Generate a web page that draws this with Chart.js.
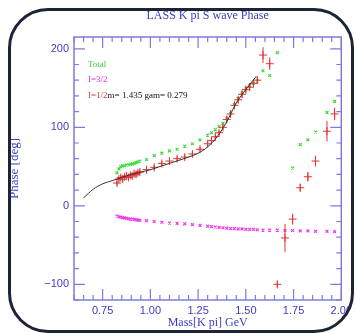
<!DOCTYPE html>
<html>
<head>
    <script src="https://cdn.jsdelivr.net/npm/chart.js@4.4.0/dist/chart.umd.min.js"></script>
    <style>
        body {
            margin: 0;
            background-color: white;
        }
        .wrap {
            position: relative;
            width: 356px;
            height: 333px;
            overflow: hidden;
        }
        .frame {
            position: absolute;
            left: 8px;
            top: 8px;
            width: 346px;
            height: 325px;
            box-sizing: border-box;
            border: 3px solid #1c2438;
            border-radius: 40px;
            box-shadow: 0 0 0 60px white;
            pointer-events: none;
        }
    </style>
</head>
<body>
    <div class="wrap">
        <canvas id="phaseChart" width="356" height="333"></canvas>
        <div class="frame"></div>
    </div>

    <script>
        // LASS K pi S-wave, 0.825 - 1.56 GeV
        const massLass = [0.825, 0.835, 0.845, 0.855, 0.865, 0.875, 0.885, 0.895, 0.905, 0.915, 0.925, 0.935, 0.945,
                          0.98, 1.02, 1.06, 1.10, 1.14, 1.18, 1.22, 1.26,
                          1.30, 1.32, 1.34, 1.36, 1.38, 1.40, 1.42, 1.44, 1.46, 1.48, 1.50, 1.52, 1.54, 1.56];
        const totalLass = [42, 47, 50, 51, 51, 52, 52, 53, 53, 54, 55, 56, 57,
                           59, 64, 67, 70, 72, 76, 79, 84,
                           90, 93, 97, 101, 105, 111, 118, 129, 137, 144, 149, 153, 156, 159];
        const iso32Lass = [-13, -14, -14.5, -15, -15.5, -16, -16.5, -17, -17, -17.5, -18, -18, -18.5,
                           -19, -20, -21, -22, -22.5, -23, -24, -25,
                           -26, -26.5, -27, -27.5, -28, -28.5, -29, -29, -29.5, -29.5, -30, -30, -30, -30.5];
        const iso12Lass = [29, 34, 36, 34, 37, 38, 36, 39, 38, 41, 40, 42, 43,
                           46, 49, 54, 57, 60, 62, 66, 72,
                           79, 83, 88, 93, 100, 110, 117, 128, 135, 142, 148, 151, 156, 160];
        const iso12LassErr = [3, 3, 3, 3, 3, 3, 3, 3, 3, 3, 3, 3, 3,
                              3, 3, 3, 3, 3, 3, 3, 3,
                              3, 3, 3, 3, 3, 4, 4, 4, 4, 4, 4, 4, 4, 4];

        // higher mass points
        const massHigh = [1.59, 1.625, 1.665, 1.705, 1.745, 1.785, 1.825, 1.865, 1.925, 1.965];
        const totalHigh = [172, 166, 195, null, 48, 78, 84, 94, 119, 133];
        const iso32High = [-31, -31, -31, -31.5, -31.5, -32, -32, -32.5, -32.5, -33];
        const iso12High = [192, 181, -100, -41, -17, 23, 37, 57, 95, 117];
        const iso12HighErr = [10, 8, 4, 18, 7, 5, 6, 7, 13, 8];

        // fit curve, m= 1.435 gam= 0.279
        const fitMass = [0.65, 0.70, 0.75, 0.80, 0.85, 0.90, 0.95, 1.00, 1.05, 1.10, 1.15, 1.20, 1.25, 1.30, 1.35, 1.40, 1.45, 1.50, 1.555];
        const fitPhase = [10, 21, 28, 32, 36, 40, 43, 46, 50, 54, 58, 62, 67, 75, 88, 107, 131, 148, 165];

        const xTicks = [0.75, 1.00, 1.25, 1.50, 1.75, 2.00];
        const yTicks = [-100, 0, 100, 200];

        const blue = '#3c3cc4';
        const axisBlue = '#7c7cdc';

        function pts(xs, ys) {
            const out = [];
            xs.forEach((x, i) => { if (ys[i] !== null) out.push({x: x, y: ys[i]}); });
            return out;
        }

        const iso12Mass = massLass.concat(massHigh);
        const iso12Phase = iso12Lass.concat(iso12High);
        const iso12Err = iso12LassErr.concat(iso12HighErr);

        // inward ticks on all four sides plus the box
        const frameTicks = {
            id: 'frameTicks',
            afterDatasetsDraw(chart) {
                const {ctx, chartArea: a, scales: {x, y}} = chart;
                ctx.save();
                ctx.strokeStyle = axisBlue;
                ctx.lineWidth = 1.5;
                ctx.strokeRect(a.left, a.top, a.right - a.left, a.bottom - a.top);
                ctx.lineWidth = 1.2;
                ctx.beginPath();
                for (let i = 12; i <= 40; i++) {
                    const v = i * 0.05;
                    const px = x.getPixelForValue(v);
                    const len = (i % 5 === 0) ? 11 : 5;
                    ctx.moveTo(px, a.bottom); ctx.lineTo(px, a.bottom - len);
                    ctx.moveTo(px, a.top); ctx.lineTo(px, a.top + len);
                }
                for (let v = -120; v <= 200; v += 20) {
                    const py = y.getPixelForValue(v);
                    const len = (v % 100 === 0) ? 11 : 5;
                    ctx.moveTo(a.left, py); ctx.lineTo(a.left + len, py);
                    ctx.moveTo(a.right, py); ctx.lineTo(a.right - len, py);
                }
                ctx.stroke();
                ctx.restore();
            }
        };

        // vertical error bars for I=1/2
        const errorBars = {
            id: 'errorBars',
            afterDatasetDraw(chart, args) {
                if (args.index !== 3) return;
                const {ctx, scales: {x, y}} = chart;
                ctx.save();
                ctx.strokeStyle = '#e03434';
                ctx.lineWidth = 1;
                ctx.beginPath();
                iso12Mass.forEach((m, i) => {
                    const px = x.getPixelForValue(m);
                    ctx.moveTo(px, y.getPixelForValue(iso12Phase[i] - iso12Err[i]));
                    ctx.lineTo(px, y.getPixelForValue(iso12Phase[i] + iso12Err[i]));
                });
                ctx.stroke();
                ctx.restore();
            }
        };

        // key in the upper left corner
        const keyText = {
            id: 'keyText',
            afterDraw(chart) {
                const {ctx} = chart;
                ctx.save();
                ctx.font = '9px "Liberation Serif", serif';
                ctx.textBaseline = 'middle';
                ctx.fillStyle = '#33cc33';
                ctx.fillText('Total', 88, 65);
                ctx.fillStyle = '#e033e0';
                ctx.fillText('I=3/2', 88, 80);
                ctx.fillStyle = '#e03434';
                ctx.fillText('I=1/2', 88, 96);
                const w = ctx.measureText('I=1/2').width;
                ctx.fillStyle = '#111';
                ctx.fillText('m= 1.435 gam= 0.279', 88 + w, 96);
                ctx.restore();
            }
        };

        new Chart(document.getElementById('phaseChart'), {
            type: 'scatter',
            data: {
                datasets: [
                    {
                        type: 'line',
                        data: pts(fitMass, fitPhase),
                        borderColor: '#333',
                        borderWidth: 1,
                        pointRadius: 0,
                        tension: 0.4,
                        cubicInterpolationMode: 'monotone',
                        order: 0
                    },
                    {
                        data: pts(massLass.concat(massHigh), totalLass.concat(totalHigh)),
                        pointStyle: 'crossRot',
                        pointRadius: 2,
                        borderColor: '#3ddc3d',
                        borderWidth: 1.2,
                        order: 3
                    },
                    {
                        data: pts(massLass.concat(massHigh), iso32Lass.concat(iso32High)),
                        pointStyle: 'crossRot',
                        pointRadius: 2,
                        borderColor: '#ec3cec',
                        borderWidth: 1.2,
                        order: 2
                    },
                    {
                        data: pts(iso12Mass, iso12Phase),
                        pointStyle: 'cross',
                        pointRadius: 4,
                        borderColor: '#e03434',
                        borderWidth: 1,
                        order: 1
                    }
                ]
            },
            options: {
                responsive: false,
                animation: false,
                events: [],
                layout: {
                    padding: {left: 0, right: 11, top: 0, bottom: 0}
                },
                plugins: {
                    legend: {display: false},
                    tooltip: {enabled: false},
                    title: {
                        display: true,
                        fullSize: false,
                        text: 'LASS K pi S wave Phase',
                        color: blue,
                        font: {family: '"Liberation Serif", serif', size: 12, weight: 'normal', lineHeight: 1.2},
                        padding: {top: 9, bottom: 13.6}
                    }
                },
                scales: {
                    x: {
                        type: 'linear',
                        min: 0.6,
                        max: 2.0,
                        afterFit(s) { s.height = 33; },
                        afterBuildTicks(s) { s.ticks = xTicks.map(v => ({value: v})); },
                        grid: {display: false, drawTicks: false},
                        border: {display: false},
                        ticks: {
                            color: blue,
                            padding: 4,
                            maxRotation: 0,
                            autoSkip: false,
                            font: {family: '"Liberation Sans", sans-serif', size: 11},
                            callback: v => v.toFixed(2)
                        },
                        title: {
                            display: true,
                            text: 'Mass[K pi] GeV',
                            color: blue,
                            font: {family: '"Liberation Serif", serif', size: 12, lineHeight: 1.2},
                            padding: {top: 0, bottom: 3}
                        }
                    },
                    y: {
                        type: 'linear',
                        min: -120,
                        max: 215,
                        afterFit(s) { s.width = 74; },
                        afterBuildTicks(s) { s.ticks = yTicks.map(v => ({value: v})); },
                        grid: {display: false, drawTicks: false},
                        border: {display: false},
                        ticks: {
                            color: blue,
                            padding: 5,
                            autoSkip: false,
                            font: {family: '"Liberation Sans", sans-serif', size: 11},
                            callback: v => String(v).replace('-', '\u2212')
                        },
                        title: {
                            display: true,
                            text: 'Phase [deg]',
                            color: blue,
                            font: {family: '"Liberation Serif", serif', size: 13, lineHeight: 1.2},
                            padding: {top: 7, bottom: 0}
                        }
                    }
                }
            },
            plugins: [frameTicks, errorBars, keyText]
        });
    </script>
</body>
</html>
